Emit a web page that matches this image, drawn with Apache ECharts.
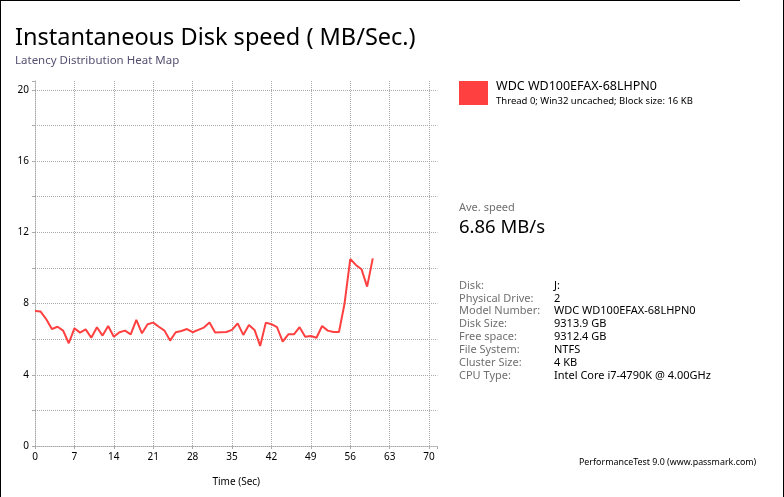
<!DOCTYPE html>
<html><head><meta charset="utf-8">
<script src="https://cdn.jsdelivr.net/npm/echarts@6/dist/echarts.min.js"></script>
<style>html,body{margin:0;padding:0;background:#fff}#c{width:784px;height:497px}</style>
</head><body><div id="c"></div>
<script>
const times = [0,1,2,3,4,5,6,7,8,9,10,11,12,13,14,15,16,17,18,19,20,21,22,23,24,25,26,27,28,29,30,31,32,33,34,35,36,37,38,39,40,41,42,43,44,45,46,47,48,49,50,51,52,53,54,55,56,57,58,59,60];
const speeds = [7.58,7.55,7.12,6.57,6.70,6.48,5.77,6.61,6.37,6.55,6.08,6.67,6.20,6.74,6.14,6.39,6.48,6.27,7.08,6.33,6.84,6.93,6.70,6.48,5.92,6.39,6.46,6.57,6.39,6.52,6.65,6.93,6.37,6.39,6.40,6.52,6.89,6.24,6.80,6.52,5.62,6.93,6.84,6.67,5.86,6.27,6.27,6.67,6.14,6.18,6.08,6.74,6.48,6.40,6.40,8.02,10.5,10.17,9.93,8.95,10.54];
const seriesName = 'WDC WD100EFAX-68LHPN0';
const seriesDesc = 'Thread 0; Win32 uncached; Block size: 16 KB';
const titleText = 'Instantaneous Disk speed ( MB/Sec.)';
const subtitleText = 'Latency Distribution Heat Map';
const xAxisName = 'Time (Sec)';
const avgLabel = 'Ave. speed';
const avgValue = '6.86 MB/s';
const infoLabels = ['Disk:','Physical Drive:','Model Number:','Disk Size:','Free space:','File System:','Cluster Size:','CPU Type:'];
const infoValues = ['J:','2','WDC WD100EFAX-68LHPN0','9313.9 GB','9312.4 GB','NTFS','4 KB','Intel Core i7-4790K @ 4.00GHz'];
const footer = 'PerformanceTest 9.0 (www.passmark.com)';

const FONT = 'Noto Sans';
const GRID = '#aaa';
const chart = echarts.init(document.getElementById('c'));
const graphics = [
  {type:'line', shape:{x1:0.5,y1:0,x2:0.5,y2:497}, style:{stroke:'#000',lineWidth:1}},
  {type:'line', shape:{x1:0,y1:0.5,x2:740,y2:0.5}, style:{stroke:'#000',lineWidth:1}},
  {type:'line', shape:{x1:783.5,y1:0,x2:783.5,y2:497}, style:{stroke:'#000',lineWidth:1}},
  {type:'text', left:459, top:202, style:{text:avgLabel, fontFamily:FONT, fontSize:11, fill:'#707070'}},
  {type:'text', left:459, top:218, style:{text:avgValue, fontFamily:FONT, fontSize:18.5, fill:'#000'}},
  {type:'text', left:579, top:458, style:{text:footer, fontFamily:FONT, fontSize:8.9, fill:'#000'}}
];
infoLabels.forEach((t,i)=>{
  graphics.push({type:'text', left:459, top:280+i*12.9, style:{text:t, fontFamily:FONT, fontSize:11, fill:'#707070'}});
  graphics.push({type:'text', left:554, top:280+i*12.9, style:{text:infoValues[i], fontFamily:FONT, fontSize:11, fill:'#000'}});
});
// 11 visible lines (0..20 / 0..70), extent line at max hidden
const yLineColors = [GRID,GRID,GRID,GRID,GRID,GRID,GRID,GRID,GRID,GRID,GRID,'rgba(0,0,0,0)'];

chart.setOption({
  animation:false,
  title:{text:titleText, subtext:subtitleText, left:10, top:21,
    textStyle:{fontFamily:FONT, fontSize:23.5, fontWeight:'normal', color:'#000'},
    subtextStyle:{fontFamily:FONT, fontSize:11.5, color:'#555070'}, itemGap:5},
  legend:{left:454, top:75, itemWidth:29, itemHeight:24, icon:'rect', orient:'vertical', itemGap:5,
    data:[seriesName],
    formatter: n => '{a|'+n+'}\n{b|'+seriesDesc+'}',
    textStyle:{padding:[0,0,0,3], rich:{a:{fontFamily:FONT,fontSize:12.5,color:'#000',lineHeight:16},b:{fontFamily:FONT,fontSize:9.5,color:'#000',lineHeight:13}}}},
  grid:{left:35, top:81, right:346.5, bottom:51, containLabel:false},
  xAxis:{type:'value', min:0, max:71.5, interval:7, name:xAxisName, nameLocation:'middle', nameGap:31,
    nameTextStyle:{fontFamily:FONT, fontSize:10, color:'#000'},
    axisLine:{lineStyle:{color:GRID, type:'dotted'}},
    axisTick:{show:true, length:3, lineStyle:{color:GRID}},
    axisLabel:{fontFamily:FONT, fontSize:10, color:'#000', margin:6,
      formatter: v => (v%7===0 ? String(v) : '')},
    splitLine:{show:true, lineStyle:{color:yLineColors, type:'dotted'}}},
  yAxis:{type:'value', min:0, max:20.5, interval:2,
    axisLine:{show:true, lineStyle:{color:GRID, type:'dotted'}},
    axisTick:{show:true, length:3, lineStyle:{color:GRID}},
    axisLabel:{fontFamily:FONT, fontSize:10, color:'#000', margin:6,
      formatter: v => (v%4===0 ? String(v) : '')},
    splitLine:{show:true, lineStyle:{color:yLineColors, type:'dotted'}}},
  series:[{type:'line', name:seriesName, data:times.map((t,i)=>[t,speeds[i]]),
    showSymbol:false, symbol:'none', lineStyle:{color:'#ff4040', width:2}, itemStyle:{color:'#ff4040'}}],
  graphic:graphics
});
</script></body></html>
